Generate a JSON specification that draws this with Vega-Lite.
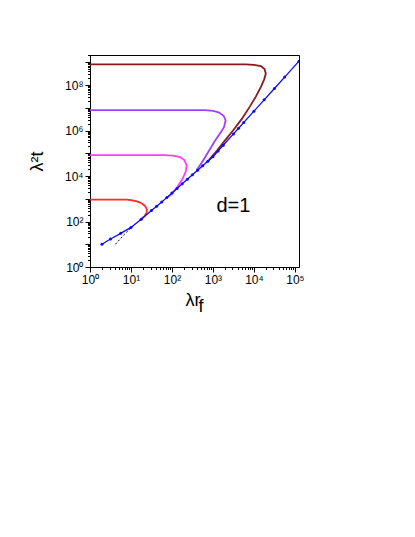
{
  "$schema": "https://vega.github.io/schema/vega-lite/v6.json",
  "width": 209,
  "height": 212,
  "padding": {"left": 28, "top": 49, "right": 5, "bottom": 5},
  "background": "white",
  "config": {
    "view": {"stroke": "black", "strokeWidth": 1},
    "font": "Liberation Sans",
    "axis": {"grid": false, "domainColor": "black", "tickColor": "black", "labelColor": "black", "titleColor": "black", "labelFont": "Liberation Sans", "titleFont": "Liberation Sans", "labelFontSize": 12, "titleFontSize": 18, "titleFontWeight": "normal"}
  },
  "datasets": {
    "blue": [
      {"x": 1.95, "y": 10, "o": 1},
      {"x": 3.16, "y": 17.0, "o": 2},
      {"x": 5.62, "y": 30.2, "o": 3},
      {"x": 10, "y": 55.0, "o": 4},
      {"x": 17.8, "y": 126, "o": 5},
      {"x": 31.6, "y": 302, "o": 6},
      {"x": 42.2, "y": 468, "o": 7},
      {"x": 56.2, "y": 724, "o": 8},
      {"x": 75, "y": 1122, "o": 9},
      {"x": 100, "y": 1778, "o": 10},
      {"x": 133, "y": 2818, "o": 11},
      {"x": 178, "y": 4571, "o": 12},
      {"x": 237, "y": 7244, "o": 13},
      {"x": 316, "y": 11482, "o": 14},
      {"x": 422, "y": 17783, "o": 15},
      {"x": 562, "y": 28184, "o": 16},
      {"x": 750, "y": 44668, "o": 17},
      {"x": 1000, "y": 70795, "o": 18},
      {"x": 1334, "y": 125893, "o": 19},
      {"x": 1778, "y": 223872, "o": 20},
      {"x": 3162, "y": 707946, "o": 21},
      {"x": 4217, "y": 1258925, "o": 22},
      {"x": 5623, "y": 2238721, "o": 23},
      {"x": 10000, "y": 7079458, "o": 24},
      {"x": 17783, "y": 22387211, "o": 25},
      {"x": 31623, "y": 70794578, "o": 26},
      {"x": 56234, "y": 223872114, "o": 27},
      {"x": 125893, "y": 1122018454, "o": 28}
    ],
    "dashed": [
      {"x": 4.17, "y": 10, "o": 1},
      {"x": 6.31, "y": 22.9, "o": 2},
      {"x": 10, "y": 52.5, "o": 3},
      {"x": 12.6, "y": 79.4, "o": 4}
    ],
    "curves": [
      {"c": "a", "x": 1, "y": 912, "o": 1},
      {"c": "a", "x": 7.94, "y": 912, "o": 2},
      {"c": "a", "x": 10, "y": 871, "o": 3},
      {"c": "a", "x": 14.1, "y": 759, "o": 4},
      {"c": "a", "x": 18.6, "y": 617, "o": 5},
      {"c": "a", "x": 22.4, "y": 468, "o": 6},
      {"c": "a", "x": 24.5, "y": 331, "o": 7},
      {"c": "a", "x": 24.0, "y": 240, "o": 8},
      {"c": "a", "x": 21.4, "y": 174, "o": 9},
      {"c": "a", "x": 18.2, "y": 132, "o": 10},
      {"c": "a", "x": 16.6, "y": 112, "o": 11},
      {"c": "b", "x": 1, "y": 83176, "o": 1},
      {"c": "b", "x": 63.1, "y": 83176, "o": 2},
      {"c": "b", "x": 107, "y": 79433, "o": 3},
      {"c": "b", "x": 158, "y": 67608, "o": 4},
      {"c": "b", "x": 200, "y": 50119, "o": 5},
      {"c": "b", "x": 229, "y": 29512, "o": 6},
      {"c": "b", "x": 219, "y": 16596, "o": 7},
      {"c": "b", "x": 182, "y": 7586, "o": 8},
      {"c": "b", "x": 135, "y": 3311, "o": 9},
      {"c": "b", "x": 100, "y": 1660, "o": 10},
      {"c": "b", "x": 79.4, "y": 1175, "o": 11},
      {"c": "c", "x": 1, "y": 7943282, "o": 1},
      {"c": "c", "x": 631, "y": 7943282, "o": 2},
      {"c": "c", "x": 1023, "y": 7244360, "o": 3},
      {"c": "c", "x": 1413, "y": 6165950, "o": 4},
      {"c": "c", "x": 1820, "y": 4466836, "o": 5},
      {"c": "c", "x": 2042, "y": 2818383, "o": 6},
      {"c": "c", "x": 1862, "y": 1412538, "o": 7},
      {"c": "c", "x": 1585, "y": 891251, "o": 8},
      {"c": "c", "x": 1122, "y": 354813, "o": 9},
      {"c": "c", "x": 794, "y": 125893, "o": 10},
      {"c": "c", "x": 562, "y": 44668, "o": 11},
      {"c": "c", "x": 398, "y": 17783, "o": 12},
      {"c": "d", "x": 1, "y": 812830516, "o": 1},
      {"c": "d", "x": 6310, "y": 812830516, "o": 2},
      {"c": "d", "x": 10000, "y": 776247117, "o": 3},
      {"c": "d", "x": 14791, "y": 676082975, "o": 4},
      {"c": "d", "x": 18197, "y": 501187234, "o": 5},
      {"c": "d", "x": 19498, "y": 316227766, "o": 6},
      {"c": "d", "x": 17783, "y": 177827941, "o": 7},
      {"c": "d", "x": 15136, "y": 89125094, "o": 8},
      {"c": "d", "x": 11220, "y": 31622777, "o": 9},
      {"c": "d", "x": 7943, "y": 11220185, "o": 10},
      {"c": "d", "x": 5012, "y": 3162278, "o": 11},
      {"c": "d", "x": 3162, "y": 1047129, "o": 12},
      {"c": "d", "x": 1995, "y": 380189, "o": 13},
      {"c": "d", "x": 1259, "y": 131826, "o": 14},
      {"c": "d", "x": 794, "y": 50119, "o": 15}
    ],
    "label": [{"x": 3162, "y": 479, "t": "d=1"}]
  },
  "encoding": {
    "x": {
      "field": "x", "type": "quantitative",
      "scale": {"type": "log", "domain": [1, 125893], "nice": false},
      "title": ["λr", "\u2800f"],
      "axis": {
        "values": [1,2,3,4,5,6,7,8,9,10,20,30,40,50,60,70,80,90,100,200,300,400,500,600,700,800,900,1000,2000,3000,4000,5000,6000,7000,8000,9000,10000,20000,30000,40000,50000,60000,70000,80000,90000,100000],
        "labelExpr": "abs(log(datum.value)/LN10 - round(log(datum.value)/LN10)) < 0.001 ? '10' + ['⁰','¹','²','³','⁴','⁵','⁶','⁷','⁸','⁹'][round(log(datum.value)/LN10)] : ''",
        "labelOverlap": false,
        "labelFlush": false,
        "tickSize": {"condition": {"test": "abs(log(datum.value)/LN10 - round(log(datum.value)/LN10)) < 0.001", "value": 5}, "value": 2.5},
        "titlePadding": 6,
        "titleAlign": "left",
        "titleX": 95,
        "titleLineHeight": 6
      }
    },
    "y": {
      "field": "y", "type": "quantitative",
      "scale": {"type": "log", "domain": [1, 2090000000], "nice": false},
      "title": "λ²t",
      "axis": {
        "values": [1,2,3,4,5,6,7,8,9,10,20,30,40,50,60,70,80,90,100,200,300,400,500,600,700,800,900,1000,2000,3000,4000,5000,6000,7000,8000,9000,10000,20000,30000,40000,50000,60000,70000,80000,90000,100000,200000,300000,400000,500000,600000,700000,800000,900000,1000000,2000000,3000000,4000000,5000000,6000000,7000000,8000000,9000000,10000000,20000000,30000000,40000000,50000000,60000000,70000000,80000000,90000000,100000000,200000000,300000000,400000000,500000000,600000000,700000000,800000000,900000000,1000000000,2000000000],
        "labelExpr": "(abs(log(datum.value)/LN10 - round(log(datum.value)/LN10)) < 0.001 && round(log(datum.value)/LN10) % 2 == 0) ? '10' + ['⁰','¹','²','³','⁴','⁵','⁶','⁷','⁸','⁹'][round(log(datum.value)/LN10)] : ''",
        "labelOverlap": false,
        "labelFlush": false,
        "tickSize": {"condition": {"test": "abs(log(datum.value)/LN10 - round(log(datum.value)/LN10)) < 0.001", "value": 5}, "value": 2.5},
        "titlePadding": 18
      }
    }
  },
  "layer": [
    {
      "data": {"name": "dashed"},
      "mark": {"type": "line", "color": "black", "strokeWidth": 1, "strokeDash": [2, 2], "clip": true},
      "encoding": {"order": {"field": "o", "type": "quantitative"}}
    },
    {
      "data": {"name": "curves"},
      "mark": {"type": "line", "strokeWidth": 1.8, "clip": true},
      "encoding": {
        "order": {"field": "o", "type": "quantitative"},
        "color": {"field": "c", "type": "nominal", "legend": null,
          "scale": {"domain": ["a", "b", "c", "d"], "range": ["#ff2a2a", "#ff3dff", "#a040ff", "#8b1a1a"]}}
      }
    },
    {
      "data": {"name": "blue"},
      "mark": {"type": "line", "color": "#0a0aff", "strokeWidth": 1.3, "clip": true, "point": {"filled": true, "size": 9, "color": "#0a0aff"}},
      "encoding": {"order": {"field": "o", "type": "quantitative"}}
    },
    {
      "data": {"name": "label"},
      "mark": {"type": "text", "fontSize": 20, "font": "Liberation Sans", "align": "center", "baseline": "middle", "color": "black"},
      "encoding": {"text": {"field": "t", "type": "nominal"}}
    }
  ]
}
